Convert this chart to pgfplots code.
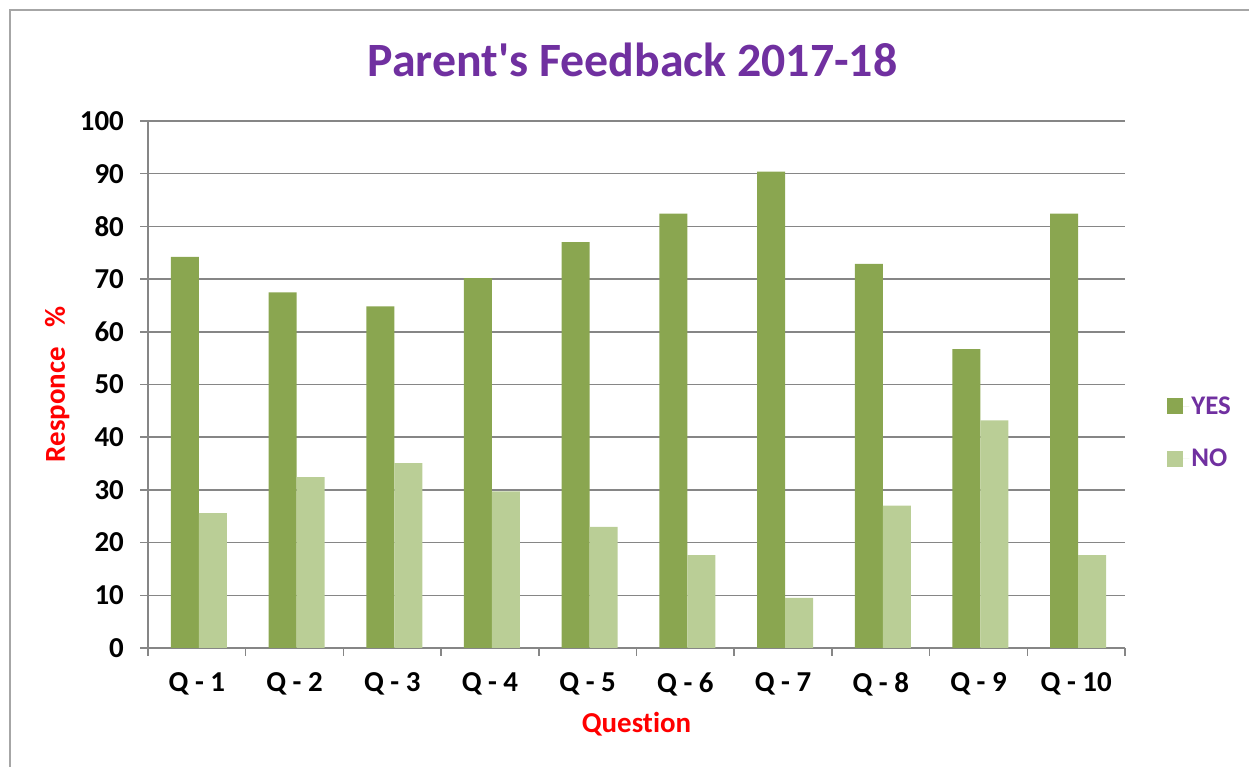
\documentclass[border=0pt]{standalone}
\usepackage{pgfplots}
\pgfplotsset{compat=1.18}
\usepackage{fontspec}
\setmainfont{Carlito}[Ligatures={NoCommon,TeXOff}]
\definecolor{yesc}{RGB}{138,166,80}
\definecolor{noc}{RGB}{186,206,150}
\definecolor{titlep}{RGB}{112,48,160}
\definecolor{gridg}{RGB}{134,134,134}
\begin{document}
\begin{tikzpicture}[x=1bp,y=1bp]
\path[use as bounding box] (0,0) rectangle (1249,767);
\draw[gray!70, line width=1.2bp] (10,-5) -- (10,757) -- (1260,757);
\begin{axis}[
  at={(148bp,119bp)}, anchor=south west,
  scale only axis, width=977bp, height=527bp,
  ybar=0pt, bar width=28bp,
  xmin=-0.5, xmax=9.5, ymin=0, ymax=100,
  ytick={0,10,...,100},
  xtick={-0.5,0.5,...,9.5},
  xticklabels={},
  extra x ticks={0,1,2,3,4,5,6,7,8,9},
  extra x tick labels={Q - 1,Q - 2,Q - 3,Q - 4,Q - 5,Q - 6,Q - 7,Q - 8,Q - 9,Q - 10},
  extra x tick style={grid=none, major tick length=0pt},
  axis x line*=bottom, axis y line*=left,
  axis line style={-, gridg, line width=1.5bp},
  tick style={gridg, line width=1.5bp},
  tick align=outside, major tick length=8bp,
  ymajorgrids, xmajorgrids=false,
  major grid style={gridg, line width=1.5bp},
  /pgf/number format/assume math mode=true,
  ticklabel style={font=\fontsize{29}{32}\selectfont\bfseries, text=black},
  xticklabel style={anchor=center, yshift=-36bp},
  yticklabel style={anchor=east, xshift=-16bp, inner sep=0pt},
  title={Parent\textquotesingle s Feedback 2017-18},
  title style={at={(0.496,1.105)}, anchor=center, font=\fontsize{48}{52}\selectfont\bfseries, text=titlep},
  xlabel={Question},
  xlabel style={at={(0.5,-0.144)}, anchor=center, font=\fontsize{29}{32}\selectfont\bfseries, text=red},
  ylabel={Responce\ \ \ \%},
  ylabel style={at={(-0.093,0.5)}, anchor=center, font=\fontsize{29}{32}\selectfont\bfseries, text=red},
  legend style={at={(1.040,0.409)}, anchor=west, draw=none, fill=none,
    font=\fontsize{27}{30}\selectfont\bfseries, text=titlep, row sep=29bp},
  legend cell align=left,
  legend image code/.code={\path (0bp,0bp) -- (22bp,0bp); \fill[#1,draw=none] (0bp,-8bp) rectangle (16bp,8bp);},
]
\addplot[fill=yesc, draw=none, bar shift=-12bp] coordinates {(0,74.2) (1,67.5) (2,64.8) (3,70.2) (4,77.0) (5,82.4) (6,90.4) (7,72.9) (8,56.7) (9,82.4)};
\addplot[fill=noc, draw=none, bar shift=16bp] coordinates {(0,25.6) (1,32.4) (2,35.1) (3,29.7) (4,23.0) (5,17.6) (6,9.5) (7,27.0) (8,43.2) (9,17.6)};
\legend{YES,NO}
\end{axis}
\end{tikzpicture}
\end{document}
